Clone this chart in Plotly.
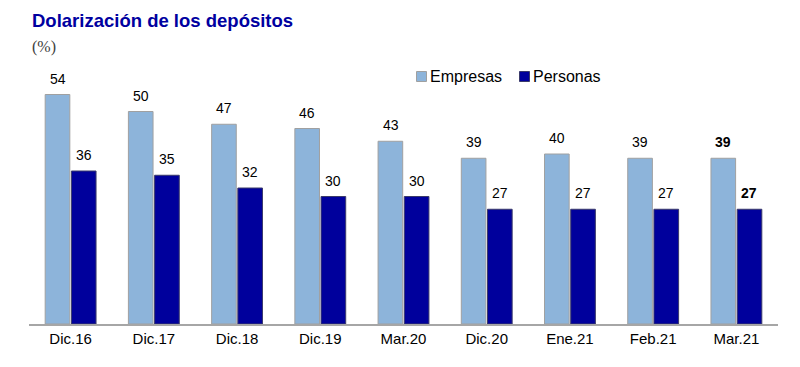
import plotly.graph_objects as go

categories = ["Dic.16", "Dic.17", "Dic.18", "Dic.19", "Mar.20", "Dic.20", "Ene.21", "Feb.21", "Mar.21"]
empresas = [54, 50, 47, 46, 43, 39, 40, 39, 39]
personas = [36, 35, 32, 30, 30, 27, 27, 27, 27]

EMP_COLOR, EMP_LINE = "#8DB4DA", "#A0A0A0"
PER_COLOR, PER_LINE = "#00009C", "#3A3A6A"

def labels(vals):
    out = [str(v) for v in vals]
    out[-1] = "<b>" + out[-1] + "</b>"
    return out

fig = go.Figure()
fig.add_trace(go.Bar(
    x=categories, y=empresas, name="Empresas",
    marker=dict(color=EMP_COLOR, line=dict(color=EMP_LINE, width=1)),
))
fig.add_trace(go.Bar(
    x=categories, y=personas, name="Personas",
    marker=dict(color=PER_COLOR, line=dict(color=PER_LINE, width=1)),
))

# screen -> paper helpers (plot area spans x 29..778, y 69..324 on screen)
def px(x):
    return (x - 29) / 749

def py(y):
    return (324 - y) / 255

annotations = []
for vals, shift in ((empresas, -13), (personas, 13)):
    for c, v, t in zip(categories, vals, labels(vals)):
        annotations.append(dict(
            x=c, y=v, xref="x", yref="y", text=t, showarrow=False,
            xanchor="center", yanchor="bottom", xshift=shift, yshift=6,
            font=dict(family="Arial, Liberation Sans", size=14, color="#000000")))

annotations.append(dict(text="<b>Dolarización de los depósitos</b>", xref="paper", yref="paper",
     x=px(30), y=py(20), xanchor="left", yanchor="middle", showarrow=False,
     font=dict(family="Arial, Liberation Sans", size=18.5, color="#0000A0")))
annotations.append(dict(text="(%)", xref="paper", yref="paper",
     x=px(30), y=py(47), xanchor="left", yanchor="middle", showarrow=False,
     font=dict(family="Times New Roman, Liberation Serif", size=16, color="#404040")))

# legend drawn as shapes + text
shapes = []
for name, color, line, x0, xt in (("Empresas", EMP_COLOR, EMP_LINE, 416.5, 428),
                                   ("Personas", PER_COLOR, PER_LINE, 519.5, 531)):
    shapes.append(dict(type="rect", xref="paper", yref="paper",
                       x0=px(x0), x1=px(x0 + 10), y0=py(81.5), y1=py(71.5),
                       fillcolor=color, line=dict(color=line, width=1)))
    annotations.append(dict(text=name, xref="paper", yref="paper", x=px(xt), y=py(76.5),
                            xanchor="left", yanchor="middle", showarrow=False,
                            font=dict(family="Arial, Liberation Sans", size=16, color="#000000")))

fig.update_layout(
    width=800, height=367,
    margin=dict(l=21, r=30, t=61, b=51),
    paper_bgcolor="white", plot_bgcolor="white",
    barmode="group", bargap=0.37, bargroupgap=0.06,
    font=dict(family="Arial, Liberation Sans", size=14, color="#000000"),
    showlegend=False,
    xaxis=dict(showline=True, linecolor="#A6A6A6", linewidth=1.5, ticks="",
               tickfont=dict(size=15), showgrid=False),
    yaxis=dict(range=[0, 60], visible=False, showgrid=False),
    annotations=annotations,
    shapes=shapes,
)
fig.write_html("out.html")
